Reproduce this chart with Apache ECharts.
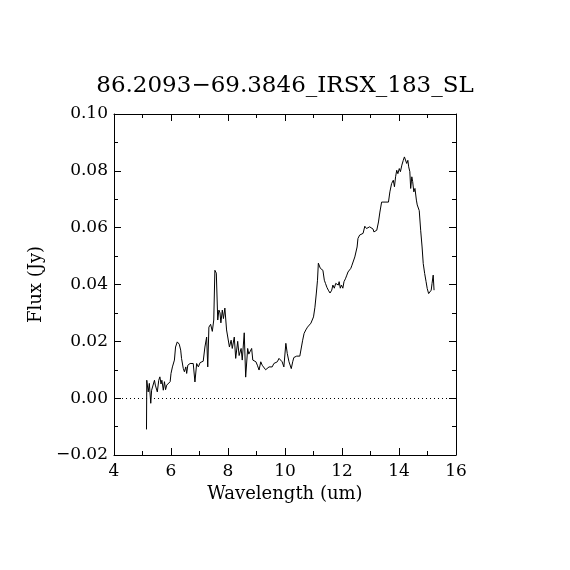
<!DOCTYPE html>
<html>
<head>
<meta charset="utf-8">
<script src="https://cdn.jsdelivr.net/npm/echarts@6/dist/echarts.min.js"></script>
<style>html,body{margin:0;padding:0;background:#fff;}#c{width:570px;height:570px;}</style>
</head>
<body>
<div id="c"></div>
<script>
var titleText = '86.2093\u221269.3846_IRSX_183_SL';
var xName = 'Wavelength (um)';
var yName = 'Flux (Jy)';
var xTicks = [4, 6, 8, 10, 12, 14, 16];
var yTicks = [-0.02, 0.00, 0.02, 0.04, 0.06, 0.08, 0.10];

var wavelength = [5.14,5.15,5.20,5.24,5.29,5.32,5.38,5.42,5.45,5.50,5.52,5.57,5.61,5.65,5.68,5.73,5.77,5.81,5.85,5.91,5.97,6.00,6.05,6.08,6.12,6.16,6.22,6.26,6.29,6.34,6.37,6.43,6.47,6.52,6.55,6.59,6.63,6.67,6.73,6.78,6.84,6.90,6.96,7.02,7.08,7.13,7.19,7.25,7.29,7.33,7.39,7.45,7.50,7.54,7.59,7.64,7.68,7.72,7.75,7.80,7.84,7.89,7.95,8.01,8.05,8.11,8.15,8.22,8.27,8.34,8.39,8.46,8.50,8.57,8.62,8.69,8.73,8.77,8.83,8.87,8.91,8.98,9.03,9.09,9.15,9.20,9.26,9.32,9.38,9.44,9.49,9.55,9.61,9.67,9.73,9.79,9.84,9.90,9.96,10.03,10.08,10.14,10.17,10.22,10.27,10.31,10.41,10.52,10.58,10.62,10.67,10.73,10.79,10.86,10.91,10.96,11.00,11.05,11.10,11.14,11.17,11.20,11.24,11.29,11.33,11.38,11.42,11.47,11.52,11.58,11.64,11.68,11.73,11.78,11.82,11.87,11.90,11.94,11.98,12.03,12.07,12.12,12.17,12.21,12.26,12.31,12.35,12.40,12.45,12.49,12.53,12.56,12.62,12.68,12.74,12.80,12.86,12.91,12.97,13.03,13.09,13.12,13.16,13.22,13.28,13.33,13.39,13.45,13.51,13.57,13.63,13.68,13.74,13.80,13.84,13.88,13.92,13.96,14.01,14.05,14.10,14.15,14.19,14.24,14.27,14.31,14.34,14.38,14.41,14.45,14.48,14.52,14.56,14.61,14.64,14.68,14.71,14.76,14.81,14.85,14.90,14.95,14.99,15.04,15.08,15.13,15.16,15.20,15.23];
var flux = [-0.011,0.0063,0.0022,0.0052,-0.0018,0.0028,0.0035,0.0063,0.0046,0.005,0.0022,0.0063,0.0075,0.005,0.0063,0.0028,0.0058,0.003,0.0046,0.005,0.0058,0.0087,0.011,0.0116,0.0134,0.018,0.0198,0.0204,0.019,0.0169,0.014,0.0105,0.0093,0.011,0.0087,0.0116,0.011,0.0122,0.0116,0.0122,0.0057,0.0122,0.011,0.0125,0.012,0.013,0.018,0.0215,0.011,0.025,0.026,0.0235,0.0275,0.045,0.044,0.0275,0.031,0.030,0.0265,0.031,0.028,0.0317,0.024,0.024,0.018,0.0204,0.0175,0.0215,0.014,0.020,0.015,0.0175,0.0134,0.023,0.0074,0.0175,0.0155,0.0163,0.0175,0.0134,0.0128,0.0128,0.0116,0.0099,0.0128,0.0116,0.011,0.010,0.0104,0.011,0.0116,0.011,0.0122,0.012,0.0128,0.014,0.0134,0.0128,0.011,0.0193,0.0157,0.0128,0.0128,0.0104,0.0128,0.0143,0.0148,0.0148,0.0152,0.0204,0.0228,0.024,0.025,0.0245,0.0264,0.026,0.0286,0.032,0.037,0.0415,0.0475,0.048,0.0457,0.046,0.045,0.0415,0.0404,0.039,0.038,0.037,0.038,0.0398,0.0387,0.0404,0.041,0.0398,0.041,0.0387,0.0398,0.0387,0.041,0.042,0.0433,0.0444,0.044,0.0457,0.0468,0.0462,0.0497,0.050,0.0532,0.0562,0.0574,0.0574,0.058,0.0605,0.0597,0.0591,0.0603,0.0597,0.0595,0.0585,0.058,0.0591,0.062,0.0655,0.069,0.0697,0.069,0.0685,0.069,0.0726,0.0755,0.0767,0.0744,0.0779,0.0802,0.079,0.0808,0.0797,0.082,0.0837,0.0849,0.0855,0.0826,0.0837,0.0814,0.0797,0.0738,0.0779,0.0762,0.0726,0.0738,0.0697,0.068,0.0685,0.066,0.0591,0.0532,0.0474,0.0439,0.041,0.0386,0.0368,0.0362,0.038,0.0404,0.0433,0.038];

var FONT = 'DejaVu Serif';
var pairs = wavelength.map(function (w, i) { return [w, flux[i]]; });

var chart = echarts.init(document.getElementById('c'), null, {renderer: 'canvas'});

function xAxisCfg(pos, showLabels) {
  return {
    type: 'value', position: pos, min: xTicks[0], max: xTicks[xTicks.length - 1], interval: 2,
    name: showLabels ? xName : '', nameLocation: 'middle', nameGap: 30,
    nameTextStyle: {fontFamily: FONT, fontSize: 18, color: '#000'},
    axisLine: {show: true, onZero: false, lineStyle: {color: '#000', width: 1}},
    axisTick: {show: true, inside: true, length: 7, lineStyle: {color: '#000'}},
    minorTick: {show: true, splitNumber: 2, length: 4, lineStyle: {color: '#000'}},
    axisLabel: {show: showLabels, fontFamily: FONT, fontSize: 17, color: '#000', margin: 8},
    splitLine: {show: false}
  };
}
function yAxisCfg(pos, showLabels) {
  return {
    type: 'value', position: pos, min: yTicks[0], max: yTicks[yTicks.length - 1], interval: 0.02,
    name: showLabels ? yName : '', nameLocation: 'middle', nameGap: 66,
    nameTextStyle: {fontFamily: FONT, fontSize: 18, color: '#000'},
    axisLine: {show: true, onZero: false, lineStyle: {color: '#000', width: 1}},
    axisTick: {show: true, inside: true, length: 7, lineStyle: {color: '#000'}},
    minorTick: {show: true, splitNumber: 2, length: 4, lineStyle: {color: '#000'}},
    axisLabel: {show: showLabels, fontFamily: FONT, fontSize: 17, color: '#000', margin: 6,
      formatter: function (v) { var s = Math.abs(v).toFixed(2); return (v < -1e-9 ? '\u2212' : '') + s; }},
    splitLine: {show: false}
  };
}

chart.setOption({
  animation: false,
  backgroundColor: '#fff',
  title: {text: titleText, left: 'center', top: 70,
    textStyle: {fontFamily: FONT, fontSize: 23, fontWeight: 'normal', color: '#000'}},
  grid: {left: 114, top: 114, width: 342, height: 341, containLabel: false},
  xAxis: [xAxisCfg('bottom', true), xAxisCfg('top', false)],
  yAxis: [yAxisCfg('left', true), yAxisCfg('right', false)],
  series: [{
    type: 'line', data: pairs, xAxisIndex: 0, yAxisIndex: 0,
    symbol: 'none', smooth: false,
    lineStyle: {color: '#000', width: 1},
    markLine: {
      silent: true, symbol: 'none', label: {show: false},
      lineStyle: {color: '#000', width: 1, type: [1, 3]},
      data: [{yAxis: 0}]
    }
  }]
});
</script>
</body>
</html>
